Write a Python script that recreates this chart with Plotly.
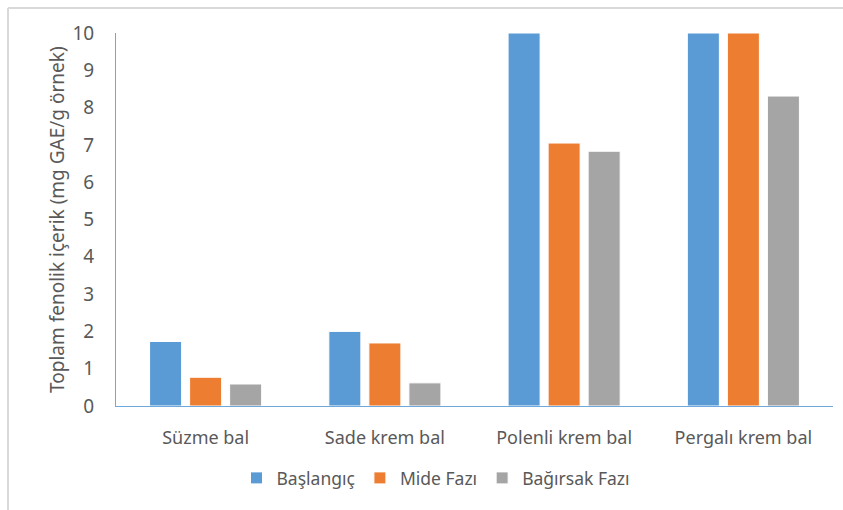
import plotly.graph_objects as go

categories = ["Süzme bal", "Sade krem bal", "Polenli krem bal", "Pergalı krem bal"]
baslangic = [1.73, 2.0, 10.0, 10.0]
mide = [0.77, 1.69, 7.05, 10.0]
bagirsak = [0.59, 0.62, 6.83, 8.31]
series_names = ["Başlangıç", "Mide Fazı", "Bağırsak Fazı"]
colors = ["#5B9BD5", "#ED7D31", "#A5A5A5"]
y_ticks = list(range(0, 11))

W, H = 843, 510
L, R, T, B = 116, 10, 33, 104
pw, ph = W - L - R, H - T - B

def px_x(p):
    return (p - L) / pw

def px_y(p):
    return (H - B - p) / ph

fig = go.Figure()
for name, vals, c in zip(series_names, [baslangic, mide, bagirsak], colors):
    fig.add_trace(go.Bar(x=categories, y=vals, name=name, marker=dict(color=c, line=dict(color="white", width=1))))

font_family = "Noto Sans, Open Sans, sans-serif"
txt = "#595959"
fig.update_layout(
    width=W, height=H,
    margin=dict(l=L, r=R, t=T, b=B),
    paper_bgcolor="white", plot_bgcolor="white",
    barmode="group", bargap=0.33, bargroupgap=0.2,
    font=dict(family=font_family, color=txt, size=16),
    showlegend=True,
    legend=dict(orientation="h", x=px_x(436), xanchor="center", y=px_y(478), yanchor="middle",
                font=dict(size=17.5, color=txt), itemwidth=30, traceorder="normal"),
    xaxis=dict(showline=True, linecolor="#6FA8DC", linewidth=1, ticks="", showgrid=False,
               tickfont=dict(size=18, color=txt), ticklabelstandoff=15),
    yaxis=dict(range=[0, 10], tickvals=y_ticks, showline=True, linecolor="#6FA8DC", linewidth=1,
               ticks="", showgrid=False, zeroline=False, tickfont=dict(size=19, color=txt),
               ticklabelstandoff=17),
    annotations=[dict(text="Toplam fenolik içerik (mg GAE/g örnek)", textangle=-90, showarrow=False,
                      xref="paper", yref="paper", x=px_x(57), y=px_y(220), xanchor="center", yanchor="middle",
                      font=dict(size=19, color=txt))],
    shapes=[
        dict(type="line", xref="paper", yref="paper", x0=px_x(8), x1=px_x(843), y0=px_y(8), y1=px_y(8),
             line=dict(color="#D9D9D9", width=2)),
        dict(type="line", xref="paper", yref="paper", x0=px_x(8), x1=px_x(8), y0=px_y(8), y1=px_y(510),
             line=dict(color="#D9D9D9", width=2)),
    ],
)
fig.write_html("out.html")
